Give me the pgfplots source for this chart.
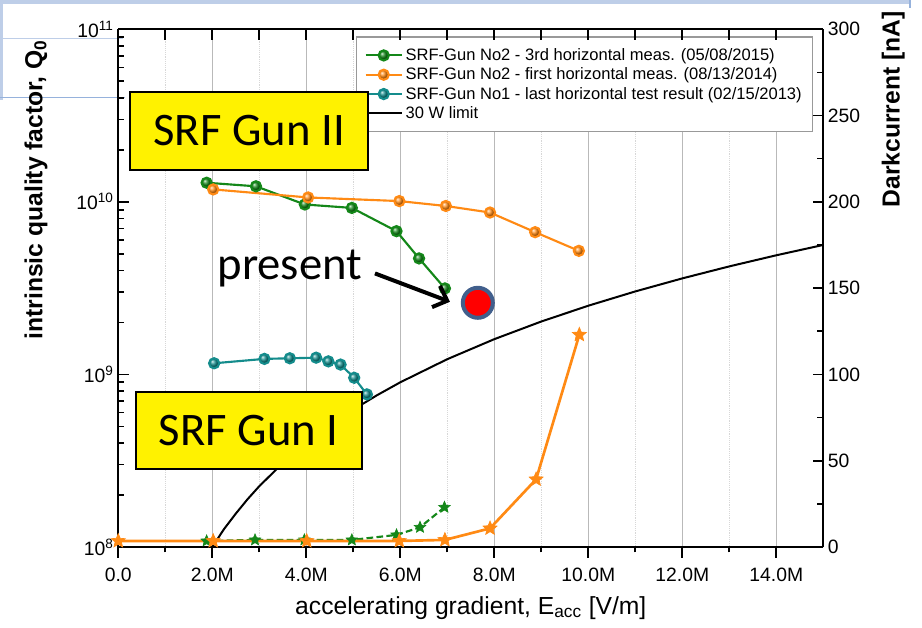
\documentclass[border=0pt]{standalone}
\usepackage{pgfplots}
\pgfplotsset{compat=1.18}
\usepackage{fontspec}
\setmainfont{Liberation Sans}
\newfontfamily\carlito{Carlito}
\usetikzlibrary{arrows.meta}
\definecolor{cgreen}{RGB}{20,135,25}
\definecolor{corange}{RGB}{255,138,20}
\definecolor{cteal}{RGB}{20,140,140}
\definecolor{cslate}{RGB}{65,95,140}
\definecolor{cgrid}{RGB}{185,185,185}
\definecolor{cminor}{RGB}{215,215,215}
\definecolor{slide}{RGB}{190,206,232}
\definecolor{slideb}{RGB}{150,178,220}
\pgfdeclareplotmark{fstar}{%
  \pgfpathmoveto{\pgfpointpolar{90}{\pgfplotmarksize}}%
  \pgfpathlineto{\pgfpointpolar{126}{0.45\pgfplotmarksize}}%
  \pgfpathlineto{\pgfpointpolar{162}{\pgfplotmarksize}}%
  \pgfpathlineto{\pgfpointpolar{198}{0.45\pgfplotmarksize}}%
  \pgfpathlineto{\pgfpointpolar{234}{\pgfplotmarksize}}%
  \pgfpathlineto{\pgfpointpolar{270}{0.45\pgfplotmarksize}}%
  \pgfpathlineto{\pgfpointpolar{306}{\pgfplotmarksize}}%
  \pgfpathlineto{\pgfpointpolar{342}{0.45\pgfplotmarksize}}%
  \pgfpathlineto{\pgfpointpolar{18}{\pgfplotmarksize}}%
  \pgfpathlineto{\pgfpointpolar{54}{0.45\pgfplotmarksize}}%
  \pgfpathclose\pgfusepathqfillstroke}

\pgfplotstableread{
E Q
1.88e6 1.29e10
2.93e6 1.23e10
3.97e6 9.65e9
4.97e6 9.22e9
5.92e6 6.76e9
6.40e6 4.70e9
6.95e6 3.15e9
}\greenQ
\pgfplotstableread{
E Q
2.02e6 1.18e10
4.04e6 1.06e10
5.98e6 1.01e10
6.97e6 9.46e9
7.91e6 8.67e9
8.87e6 6.67e9
9.80e6 5.20e9
}\orangeQ
\pgfplotstableread{
E Q
2.04e6 1.16e9
3.11e6 1.23e9
3.65e6 1.24e9
4.21e6 1.25e9
4.47e6 1.19e9
4.73e6 1.14e9
5.02e6 9.56e8
5.29e6 7.66e8
}\tealQ
\pgfplotstableread{
E Q
2.00e6 1.00e8
2.25e6 1.27e8
2.50e6 1.56e8
2.75e6 1.89e8
3.00e6 2.25e8
3.50e6 3.06e8
4.00e6 4.00e8
4.50e6 5.06e8
5.00e6 6.25e8
5.50e6 7.56e8
6.00e6 9.00e8
7.00e6 1.225e9
8.00e6 1.60e9
9.00e6 2.025e9
10.0e6 2.50e9
11.0e6 3.025e9
12.0e6 3.60e9
13.0e6 4.225e9
14.0e6 4.90e9
15.0e6 5.625e9
}\limitQ
\pgfplotstableread{
E I
0 3.5
2.02e6 3.5
4.01e6 3.5
5.98e6 3.5
6.95e6 4.1
7.91e6 10.8
8.89e6 39.2
9.81e6 123
}\orangeI
\pgfplotstableread{
E I
1.88e6 3.5
2.91e6 4.1
3.96e6 4.1
4.97e6 4.1
5.92e6 7.0
6.42e6 11.4
6.94e6 23.0
}\greenI

\begin{document}
\begin{tikzpicture}
% slide background remnants, drawn first (axis box lower-left corner is at (0,0); 1px = 0.75pt)
\coordinate (TL) at (-88.7pt,410.25pt);
\fill[slide] (TL) rectangle ++(682.5pt,-3pt);
\draw[slideb, line width=1.2pt] ([shift={(682.5pt,0pt)}]TL) -- ++(0,-6pt);
\fill[slide] ([yshift=-3pt]TL) rectangle ++(2.2pt,-72pt);
\draw[slide, line width=1.1pt] ([yshift=-29pt]TL) -- ++(92pt,0);
\draw[slideb, line width=1.1pt] ([yshift=-73.3pt]TL) -- ++(94pt,0);
% ---------- axis B: bottom x axis, grid, x label ----------
\begin{axis}[name=main, at={(0,0)}, anchor=south west,
  scale only axis, width=528.75pt, height=388.3pt,
  xmin=0, xmax=15e6, ymin=0, ymax=1,
  axis x line*=bottom, axis y line=none,
  tick align=outside,
  xtick={0,2e6,4e6,6e6,8e6,10e6,12e6,14e6},
  xticklabels={0.0,2.0M,4.0M,6.0M,8.0M,10.0M,12.0M,14.0M},
  minor xtick={1e6,3e6,5e6,7e6,9e6,11e6,13e6},
  scaled x ticks=false,
  xmajorgrids, xminorgrids,
  major grid style={cgrid, line width=0.9pt},
  minor grid style={cminor, densely dotted, line width=0.7pt},
  major tick length=8pt, minor tick length=4pt,
  every tick/.style={black, line width=1.2pt},
  axis line style={line width=1.6pt},
  tick label style={font=\fontsize{14.5}{16}\selectfont},
  xticklabel style={yshift=-4pt},
  xlabel={accelerating gradient, E\textsubscript{acc} [V/m]},
  xlabel style={font=\fontsize{18.5}{21}\selectfont, at={(rel axis cs:0.5,-0.1178)}, anchor=center},
]
\end{axis}
% ---------- axis A: left log axis, Q0 data ----------
\begin{axis}[at={(main.south west)}, anchor=south west,
  scale only axis, width=528.75pt, height=388.3pt,
  xmin=0, xmax=15e6, ymode=log, ymin=1e8, ymax=1e11,
  axis x line=none, axis y line*=left,
  tick align=inside,
  ytick={1e8,1e9,1e10,1e11},
  yticklabels={10\textsuperscript{8},10\textsuperscript{9},10\textsuperscript{10},10\textsuperscript{11}},
  minor ytick={2e8,3e8,4e8,5e8,6e8,7e8,8e8,9e8,2e9,3e9,4e9,5e9,6e9,7e9,8e9,9e9,2e10,3e10,4e10,5e10,6e10,7e10,8e10,9e10},
  major tick length=8pt, minor tick length=4.5pt,
  every tick/.style={black, line width=1.2pt},
  axis line style={line width=1.6pt},
  tick label style={font=\fontsize{14.5}{16}\selectfont},
  ylabel={\bfseries intrinsic quality factor, Q\textsubscript{0}},
  ylabel style={font=\fontsize{18.5}{21}\selectfont, at={(rel axis cs:-0.1167,0.69)}, anchor=center},
  legend style={at={(rel axis cs:0.337,0.986)}, anchor=north west, draw=gray!80, line width=0.9pt, fill=white,
    font=\fontsize{12.4}{14}\selectfont, row sep=0pt, inner xsep=6pt, inner ysep=6.5pt},
  legend cell align=left,
  legend image code/.code={\draw[mark repeat=2,mark phase=2] plot coordinates {(0cm,0cm) (0.48cm,0cm) (0.96cm,0cm)};},
]
\addplot[cgreen, line width=1.6pt, mark=ball, mark size=3.8pt, mark options={ball color=cgreen}] table[x=E,y=Q] {\greenQ};
\addlegendentry{SRF-Gun No2 - 3rd horizontal meas. (05/08/2015)}
\addplot[corange, line width=1.6pt, mark=ball, mark size=3.8pt, mark options={ball color=corange}] table[x=E,y=Q] {\orangeQ};
\addlegendentry{SRF-Gun No2 - first horizontal meas. (08/13/2014)}
\addplot[cteal, line width=1.6pt, mark=ball, mark size=3.8pt, mark options={ball color=cteal}] table[x=E,y=Q] {\tealQ};
\addlegendentry{SRF-Gun No1 - last horizontal test result (02/15/2013)}
\addplot[black, line width=1.5pt, no marks] table[x=E,y=Q] {\limitQ};
\addlegendentry{30 W limit}
\addplot[forget plot, only marks, mark=*, mark size=11.25pt, mark options={fill=red, draw=cslate, line width=3pt}] coordinates {(7.65e6,2.6e9)};
\end{axis}
% ---------- axis C: right axis (dark current), top ticks ----------
\begin{axis}[at={(main.south west)}, anchor=south west,
  scale only axis, width=528.75pt, height=388.3pt,
  xmin=0, xmax=15e6, ymin=0, ymax=300,
  axis x line*=top, axis y line*=right,
  tick align=inside,
  xtick={0,1e6,2e6,3e6,4e6,5e6,6e6,7e6,8e6,9e6,10e6,11e6,12e6,13e6,14e6},
  xticklabels={}, scaled x ticks=false,
  ytick={0,50,100,150,200,250,300},
  yticklabels={0,50,100,150,200,250,300},
  minor ytick={25,75,125,175,225,275},
  major tick length=8pt, minor tick length=5pt,
  every tick/.style={black, line width=1.2pt},
  axis line style={line width=1.6pt},
  tick label style={font=\fontsize{14.5}{16}\selectfont},
  ylabel={\bfseries Darkcurrent [nA]},
  ylabel style={font=\fontsize{18.5}{21}\selectfont, at={(rel axis cs:1.0993,0.845)}, anchor=center, rotate=0},
  clip=false,
]
\addplot[cgreen, line width=1.6pt, dash pattern=on 5pt off 2.5pt, mark=fstar, mark size=4.5pt, mark options={solid, fill=cgreen, line width=0.5pt}] table[x=E,y=I] {\greenI};
\addplot[corange, line width=2pt, mark=fstar, mark size=5.5pt, mark options={fill=corange, line width=0.5pt}] table[x=E,y=I] {\orangeI};
% annotations
\draw[line width=3pt, -{Straight Barb[length=9pt,width=17pt]}] (rel axis cs:0.3641,0.5284) -- (rel axis cs:0.4705,0.4736);
\node[anchor=base, font=\carlito\fontsize{35}{40}\selectfont, inner sep=0pt] at (rel axis cs:0.2434,0.5168) {present};
\node[draw=black, line width=1.5pt, fill=yellow, minimum width=178.7pt, minimum height=58.2pt, inner sep=0pt,
  font=\carlito\fontsize{35}{40}\selectfont] at (rel axis cs:0.1857,0.804) {SRF Gun II};
\node[draw=black, line width=1.5pt, fill=yellow, minimum width=169.5pt, minimum height=57.75pt, inner sep=0pt,
  font=\carlito\fontsize{35}{40}\selectfont] at (rel axis cs:0.185,0.2243) {SRF Gun I};
\end{axis}
\pgfresetboundingbox
\path[use as bounding box] ([shift={(-88.7pt,-60.75pt)}]main.south west) rectangle ([shift={(602.8pt,410.25pt)}]main.south west);
\end{tikzpicture}
\end{document}
